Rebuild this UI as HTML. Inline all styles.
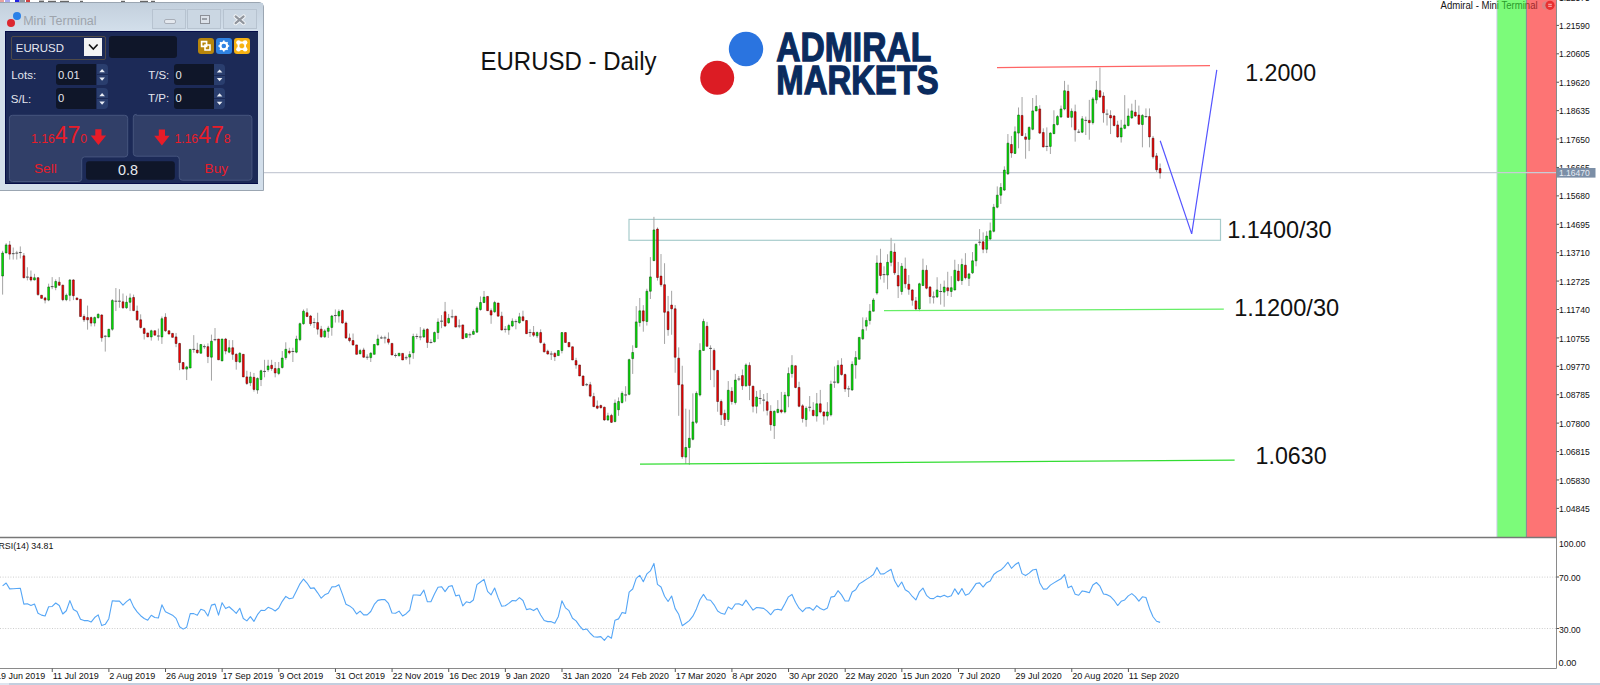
<!DOCTYPE html>
<html><head><meta charset="utf-8"><style>
html,body{margin:0;padding:0;width:1600px;height:685px;overflow:hidden;background:#fff}
body{position:relative;font-family:"Liberation Sans",sans-serif}
.ch{position:absolute;left:0;top:0}
.ax text,text.ax{font-family:"Liberation Sans",sans-serif;font-size:9.5px;fill:#111}
.dt text{font-family:"Liberation Sans",sans-serif;font-size:9.6px;fill:#111}
.big text{font-family:"Liberation Sans",sans-serif;font-size:23.6px;fill:#111}
.big text.title{font-size:25.8px}
.logo text{font-family:"Liberation Sans",sans-serif;font-weight:bold;font-size:40.4px;fill:#0a2b5e;stroke:#0a2b5e;stroke-width:1.3px}
.a{position:absolute}
.t{white-space:nowrap;line-height:1}
.btn{background:#cbd7e3;border:1px solid #b7c3d0;box-sizing:border-box}
.dk{background:#0f1629}
.sp{width:11.2px;background:#2a3e6e;border-radius:0 4px 4px 0}
.lb{font-size:11.5px;color:#e4e6ee}
.val{font-size:11.2px;color:#e4e6ee}
.pr{color:#e81c28}.pr .s{font-size:12.2px}.pr .b{font-size:23px}
</style></head><body>
<svg class="ch" width="1600" height="685" viewBox="0 0 1600 685">
<rect x="1497" y="0" width="29.5" height="537.5" fill="#7cfb7a"/>
<rect x="1526.5" y="0" width="29.5" height="537.5" fill="#fd7474"/>
<path d="M1496.9 0V537.5" stroke="#cfd0ea" stroke-width="1" fill="none"/><path d="M1526.4 0V537.5" stroke="#7c8a96" stroke-width="1" fill="none"/>
<path d="M0 172.6H1556" stroke="#c8ccd6" stroke-width="1.2" fill="none"/>
<rect x="629" y="219.4" width="591.5" height="20.9" fill="none" stroke="#a8cccc" stroke-width="1.2"/>
<path d="M2.61 250.81V294.62M6.15 243.14V253M9.69 240.95V259.57M13.23 247.52V259.57M16.77 250.81V259.57M20.31 246.43V258.48M23.85 253V278.19M27.39 267.24V280.38M30.93 270.53V281.48M34.47 273.81V280.38M38.01 277.1V295.72M41.55 295.28V298.35M45.09 296.81V303.38M48.63 283.67V301.19M52.17 277.1V289.15M55.71 279.29V290.24M59.25 277.1V285.86M62.79 284.76V301.19M66.33 293.53V301.19M69.87 279.29V301.19M73.41 279.29V300.1M76.95 297.91V299.66M80.49 299.22V316.53M84.03 314.34V322M87.57 305.58V329.67M91.11 316.53V326.39M94.65 316.53V326.39M98.19 313.24V318.72M101.73 314.34V341.72M105.27 335.15V351.58M108.81 329.23V336.9M112.35 299V330.77M115.89 288.05V311.05M119.43 289.15V307.77M122.97 293.53V308.86M126.51 295.72V308.86M130.05 293.53V311.05M133.59 294.62V311.05M137.13 305.58V320.91M140.67 314.34V328.58M144.2 327.48V339.53M147.74 332.96V336.9M151.28 329.67V340.62M154.82 330.77V335.15M158.36 328.58V340.62M161.9 316.53V343.91M165.44 313.24V331.86M168.98 330.77V334.05M172.52 333.4V337.34M176.06 332.96V347.2M179.6 342.81V370.2M183.14 362.53V369.1M186.68 365.82V380.05M190.22 349.39V368.01M193.76 335.15V352.67M197.3 342.81V353.77M200.84 344.48V353.24M204.38 344.48V348.86M207.92 343.38V363.1M211.46 334.62V380.62M215 328.05V341.19M218.54 339V359.81M222.08 339V360.91M225.62 337.91V354.34M229.16 340.1V353.24M232.7 340.1V359.81M236.24 353.24V369.67M239.78 352.15V363.1M243.32 354.34V376.9M246.86 370.77V385.01M250.4 371.86V386.1M253.94 372.96V391.58M257.48 377.34V393.77M261.02 369.67V386.1M264.56 359.81V377.34M268.1 359.81V371.86M271.64 359.81V370.77M275.18 362V377.34M278.72 362V375.15M282.26 351.05V368.58M285.79 342.29V359.81M289.33 347.77V354.34M292.87 347.77V362M296.41 335.72V353.24M299.95 322.57V341.19M303.49 309.43V324.76M307.03 308.34V317.1M310.57 314.91V325.86M314.11 318.19V328.05M317.65 312.72V334.62M321.19 325.86V337.91M324.73 329.15V337.91M328.27 325.86V337.91M331.81 314.91V335.72M335.35 309.43V322.57M338.89 309.43V322.57M342.43 309.43V323.67M345.97 321.48V339M349.51 333.53V342.29M353.05 333.53V345.58M356.59 344.92V354.34M360.13 348.86V354.34M363.67 347.77V357.62M367.21 354.34V359.81M370.75 352.15V362M374.29 344.48V354.34M377.83 334.62V345.58M381.37 335.72V339M384.91 335.72V343.38M388.45 332.43V344.48M391.99 343.38V354.99M395.53 353.24V357.62M399.07 353.24V355.87M402.61 353.38V359.96M406.15 355.58V359.96M409.69 351.19V364.34M413.23 333.67V358.86M416.77 333.67V339.15M420.31 327.1V340.24M423.85 328.19V338.05M427.38 328.19V347.91M430.92 339.15V343.53M434.46 331.48V342.43M438 318.34V339.15M441.54 315.05V328.19M445.08 301.91V327.1M448.62 313.95V323.81M452.16 309.57V318.34M455.7 316.14V327.1M459.24 319.43V328.19M462.78 324.91V338.71M466.32 333.67V337.39M469.86 332.57V338.05M473.4 329.29V334.76M476.94 306.29V332.57M480.48 296.43V310.67M484.02 290.95V303M487.56 296.43V310.67M491.1 308.48V323.81M494.64 300.81V312.86M498.18 303V316.14M501.72 311.76V330.38M505.26 326V332.57M508.8 323.81V334.76M512.34 318.34V327.1M515.88 319.43V329.29M519.42 312.86V323.81M522.96 310.67V321.62M526.5 320.53V333.67M530.04 329.29V336.96M533.58 326V336.96M537.12 331.48V338.05M540.66 329.29V343.53M544.2 342.43V352.29M547.74 349.66V354.48M551.28 351.19V359.96M554.82 352.29V361.05M558.36 350.54V355.58M561.9 332.57V353.38M565.44 332.57V342.43M568.97 342.43V346.81M572.51 346.81V359.96M576.05 357.77V368.72M579.59 364.99V375.95M583.13 375.95V385.59M586.67 382.96V386.24M590.21 381.86V397.2M593.75 392.81V407.05M597.29 400.48V409.24M600.83 404.58V408.67M604.37 406.62V420.93M607.91 412.75V420.93M611.45 413.78V422.97M614.99 399.47V422.36M618.53 397.43V415.82M622.07 391.3V403.56M625.61 386.19V401.52M629.15 358.61V395.39M632.69 345.32V373.93M636.23 306.14V347.42M639.77 297.97V326.58M643.31 305.12V331.69M646.85 288.78V325.56M650.39 257.1V298.99M653.93 216.85V261.19M657.47 227.48V280.6M661.01 254.04V286.73M664.55 263.23V343.95M668.09 295.93V335.77M671.63 290.82V334.75M675.17 305.12V372.76M678.71 347.37V415.82M682.25 365.76V458.73M685.79 408.67V463.84M689.33 409.69V464.86M692.87 393.34V440.34M696.41 391.3V423.99M699.95 343.28V396.41M703.49 318.76V350.43M707.03 321.83V346.35M710.56 345.32V380.06M714.1 348.39V387.21M717.64 369.84V411.73M721.18 399.47V425.01M724.72 409.69V426.04M728.26 381.08V421.95M731.8 387.21V404.58M735.34 373.93V404.58M738.88 375.97V381.08M742.42 369.47V389.91M745.96 363.34V386.84M749.5 362.32V400.12M753.04 385.82V412.38M756.58 390.93V413.4M760.12 389.91V404.21M763.66 393.99V411.36M767.2 392.97V415.45M770.74 405.23V430.77M774.28 410.34V438.95M777.82 400.12V413.4M781.36 391.95V413.4M784.9 391.95V413.4M788.44 367.43V407.27M791.98 355.17V377.65M795.52 365.39V388.27M799.06 381.73V407.27M802.6 404.21V422.6M806.14 406.25V426.69M809.68 396.04V411.36M813.22 402.17V416.47M816.76 392.97V421.58M820.3 389.91V413.4M823.84 411.36V424.64M827.38 402.17V420.56M830.92 380.71V416.47M834.46 366.41V387.86M838 360.28V383.78M841.54 358.23V375.6M845.08 373.56V391.95M848.62 385.82V397.06M852.15 361.3V390.93M855.69 351.08V378.67M859.23 337.39V359.26M862.77 317.37V339.84M866.31 317.37V330.65M869.85 304.09V324.52M873.39 297.96V311.24M876.93 255.36V294.75M880.47 248.79V279.43M884.01 266.3V282.72M887.55 254.26V289.28M891.09 237.85V266.3M894.63 243.32V275.06M898.17 261.92V298.04M901.71 263.02V294.75M905.25 257.55V288.19M908.79 275.06V294.75M912.33 289.28V305.7M915.87 296.94V310.07M919.41 282.72V311.17M922.95 258.64V286M926.49 265.21V289.28M930.03 286V303.51M933.57 291.47V303.51M937.11 277.24V298.04M940.65 283.81V304.6M944.19 280.53V306.79M947.73 271.77V295.85M951.27 276.15V296.94M954.81 259.74V290.38M958.35 264.11V281.62M961.89 258.64V284.9M965.43 253.17V279.43M968.97 272.87V286M972.51 252.07V273.96M976.05 243.32V266.3M979.59 229.09V245.51M983.13 232.38V253.17M986.67 231.28V253.17M990.21 222.53V240.04M993.74 203.92V232.38M997.28 186.41V208.3M1000.82 183.13V203.92M1004.36 166.32V191M1007.9 134.05V174.87M1011.44 135.94V157.78M1014.98 126.45V153.98M1018.52 107.47V148.29M1022.06 97.02V135.94M1025.6 133.1V158.73M1029.14 126.45V151.13M1032.68 97.97V130.25M1036.22 95.12V111.26M1039.76 105.19V134.05M1043.3 128.35V147.34M1046.84 127.4V151.13M1050.38 132.15V153.98M1053.92 110.31V134.05M1057.46 115.06V125.5M1061 105.57V117.91M1064.54 80.88V110.31M1068.08 84.68V117.91M1071.62 108.41V127.4M1075.16 104.62V141.64M1078.7 129.3V133.1M1082.24 116.01V133.1M1085.78 116.58V135M1089.32 99.87V139.74M1092.86 97.02V124.55M1096.4 80.88V103.67M1099.94 67.59V97.97M1103.48 92.28V122.65M1107.02 109.36V125.5M1110.56 110.31V134.05M1114.1 115.06V126.45M1117.64 120.76V137.84M1121.18 119.81V142.59M1124.72 95.12V129.3M1128.26 108.41V126.45M1131.8 103.67V118.86M1135.33 99.87V116.96M1138.87 105.57V124.55M1142.41 114.11V147.34M1145.95 108.41V117.91M1149.49 108.41V147.34M1153.03 135.94V158.73M1156.57 153.03V172.02M1160.11 163.47V178.66" stroke="#a4a4a4" stroke-width="1" fill="none"/>
<path d="M1.71 253h1.8v23h-1.8zM5.25 244.9h1.8v8.11h-1.8zM33.57 277.75h1.8v2.19h-1.8zM47.73 286.96h1.8v13.14h-1.8zM54.81 281.48h1.8v5.91h-1.8zM65.43 295.28h1.8v4.38h-1.8zM68.97 279.95h1.8v15.33h-1.8zM93.75 317.62h1.8v5.48h-1.8zM97.29 314.34h1.8v3.29h-1.8zM107.91 329.23h1.8v7.67h-1.8zM111.45 300.54h1.8v28.7h-1.8zM125.61 302.29h1.8v5.48h-1.8zM129.15 297.91h1.8v4.38h-1.8zM150.38 330.77h1.8v6.13h-1.8zM161 318.72h1.8v18.18h-1.8zM185.78 366.91h1.8v2.19h-1.8zM189.32 349.39h1.8v18.62h-1.8zM199.94 344.48h1.8v8.76h-1.8zM210.56 341.19h1.8v15.99h-1.8zM221.18 339h1.8v21.91h-1.8zM228.26 347.77h1.8v4.38h-1.8zM238.88 353.24h1.8v8.76h-1.8zM249.5 376.9h1.8v5.91h-1.8zM256.58 378.43h1.8v11.61h-1.8zM260.12 370.77h1.8v8.76h-1.8zM267.2 365.95h1.8v3.72h-1.8zM277.82 368.58h1.8v4.82h-1.8zM281.36 358.06h1.8v9.42h-1.8zM284.89 349.3h1.8v8.32h-1.8zM295.51 339h1.8v13.14h-1.8zM299.05 323.67h1.8v15.99h-1.8zM302.59 311.18h1.8v12.49h-1.8zM323.83 330.9h1.8v5.91h-1.8zM327.37 328.05h1.8v3.29h-1.8zM330.91 316h1.8v11.39h-1.8zM337.99 311.62h1.8v4.38h-1.8zM359.23 350.61h1.8v3.07h-1.8zM369.85 353.24h1.8v4.38h-1.8zM373.39 344.48h1.8v9.86h-1.8zM376.93 339h1.8v5.91h-1.8zM398.17 353.24h1.8v2.63h-1.8zM408.79 354.48h1.8v2.63h-1.8zM412.33 336.52h1.8v16.21h-1.8zM422.95 329.95h1.8v7.01h-1.8zM433.56 332.57h1.8v9.2h-1.8zM437.1 322.06h1.8v10.51h-1.8zM447.72 318.34h1.8v4.38h-1.8zM465.42 333.67h1.8v3.72h-1.8zM472.5 331.48h1.8v2.85h-1.8zM476.04 308.04h1.8v24.1h-1.8zM479.58 302.56h1.8v7.01h-1.8zM483.12 297.09h1.8v5.48h-1.8zM493.74 302.56h1.8v9.2h-1.8zM507.9 325.56h1.8v4.38h-1.8zM511.44 321.18h1.8v4.82h-1.8zM518.52 316.8h1.8v5.91h-1.8zM536.22 332.57h1.8v3.29h-1.8zM557.46 350.54h1.8v5.04h-1.8zM561 332.57h1.8v17.96h-1.8zM607.01 415.82h1.8v4.09h-1.8zM614.09 403.15h1.8v18.39h-1.8zM617.63 401.52h1.8v8.17h-1.8zM621.17 393.34h1.8v9.19h-1.8zM628.25 359.63h1.8v34.74h-1.8zM631.79 352.48h1.8v6.13h-1.8zM635.33 321.88h1.8v25.54h-1.8zM638.87 310.84h1.8v11.65h-1.8zM645.95 291.23h1.8v30.24h-1.8zM649.49 276.92h1.8v14.3h-1.8zM653.03 229.93h1.8v30.65h-1.8zM684.89 447.49h1.8v9.6h-1.8zM688.43 438.3h1.8v9.19h-1.8zM691.97 421.95h1.8v17.37h-1.8zM695.51 393.34h1.8v29.02h-1.8zM699.05 350.43h1.8v44.54h-1.8zM702.59 321.42h1.8v29.02h-1.8zM727.36 390.28h1.8v29.22h-1.8zM734.44 380.06h1.8v22.48h-1.8zM745.06 364.98h1.8v20.84h-1.8zM755.68 397.06h1.8v9.19h-1.8zM773.38 411.36h1.8v14.3h-1.8zM776.92 409.32h1.8v3.06h-1.8zM784 395.01h1.8v16.96h-1.8zM787.54 373.56h1.8v22.48h-1.8zM791.08 365.39h1.8v8.17h-1.8zM805.24 408.3h1.8v11.24h-1.8zM815.86 403.8h1.8v12.26h-1.8zM826.48 411.97h1.8v4.09h-1.8zM830.02 384.18h1.8v30.65h-1.8zM837.1 365.39h1.8v17.37h-1.8zM851.25 364.36h1.8v25.54h-1.8zM854.79 357.62h1.8v7.36h-1.8zM858.33 337.39h1.8v21.86h-1.8zM861.87 329.63h1.8v9.19h-1.8zM865.41 320.43h1.8v5.72h-1.8zM868.95 311.24h1.8v9.19h-1.8zM872.49 300h1.8v11.24h-1.8zM876.03 263.02h1.8v29.98h-1.8zM886.65 262.36h1.8v12.69h-1.8zM890.19 251.42h1.8v10.94h-1.8zM900.81 266.3h1.8v25.17h-1.8zM918.51 283.81h1.8v25.17h-1.8zM922.05 270.24h1.8v15.32h-1.8zM936.21 289.94h1.8v7h-1.8zM943.29 287.09h1.8v5.03h-1.8zM950.37 287.75h1.8v3.72h-1.8zM953.91 270.24h1.8v19.7h-1.8zM960.99 264.55h1.8v15.98h-1.8zM968.07 273.96h1.8v4.38h-1.8zM971.61 260.83h1.8v12.04h-1.8zM975.15 244.41h1.8v16.41h-1.8zM985.77 236.1h1.8v13.13h-1.8zM989.31 230.84h1.8v8.1h-1.8zM992.84 207.21h1.8v24.08h-1.8zM996.38 195.17h1.8v12.04h-1.8zM999.92 187.51h1.8v7.66h-1.8zM1003.46 170.12h1.8v19.94h-1.8zM1007 143.16h1.8v30.76h-1.8zM1014.08 131.77h1.8v21.64h-1.8zM1017.62 115.06h1.8v18.04h-1.8zM1028.24 127.4h1.8v11.96h-1.8zM1031.78 110.88h1.8v18.42h-1.8zM1035.32 106.52h1.8v4.37h-1.8zM1049.48 133.1h1.8v13.29h-1.8zM1053.02 124.55h1.8v9.11h-1.8zM1056.56 116.58h1.8v7.97h-1.8zM1060.1 108.98h1.8v7.97h-1.8zM1063.64 90.76h1.8v18.23h-1.8zM1070.72 111.26h1.8v6.08h-1.8zM1081.34 118.86h1.8v13.29h-1.8zM1091.96 98.92h1.8v23.73h-1.8zM1095.5 90h1.8v9.87h-1.8zM1120.28 127.97h1.8v8.92h-1.8zM1123.82 124.93h1.8v3.42h-1.8zM1127.36 116.01h1.8v9.49h-1.8zM1130.9 110.88h1.8v7.02h-1.8zM1141.51 115.44h1.8v9.11h-1.8z" fill="#00ee00" stroke="#0a4a0a" stroke-width="0.55"/>
<path d="M8.79 244.9h1.8v9.2h-1.8zM22.95 255.85h1.8v21.91h-1.8zM30.03 277.1h1.8v2.85h-1.8zM37.11 277.75h1.8v16.87h-1.8zM40.65 295.28h1.8v3.07h-1.8zM44.19 297.91h1.8v2.19h-1.8zM58.35 282.14h1.8v3.07h-1.8zM61.89 285.2h1.8v14.46h-1.8zM72.51 279.95h1.8v15.77h-1.8zM76.05 297.91h1.8v1.75h-1.8zM79.59 299.22h1.8v17.31h-1.8zM83.13 316.53h1.8v3.29h-1.8zM86.67 317.62h1.8v2.19h-1.8zM90.21 317.62h1.8v5.48h-1.8zM100.83 314.99h1.8v22.78h-1.8zM122.07 301.85h1.8v5.91h-1.8zM132.69 297.47h1.8v13.14h-1.8zM136.23 311.05h1.8v8.76h-1.8zM139.77 319.81h1.8v7.67h-1.8zM143.3 328.58h1.8v4.82h-1.8zM146.84 332.96h1.8v3.94h-1.8zM153.92 330.77h1.8v4.38h-1.8zM164.54 317.19h1.8v13.58h-1.8zM168.08 330.77h1.8v3.29h-1.8zM171.62 333.4h1.8v3.94h-1.8zM175.16 336.9h1.8v6.57h-1.8zM178.7 343.47h1.8v19.06h-1.8zM182.24 362.53h1.8v6.57h-1.8zM196.4 350.04h1.8v2.63h-1.8zM207.02 346.67h1.8v9.86h-1.8zM217.64 339h1.8v20.81h-1.8zM224.72 339h1.8v12.05h-1.8zM231.8 347.77h1.8v6.57h-1.8zM235.34 354.34h1.8v7.23h-1.8zM242.42 354.34h1.8v22.56h-1.8zM245.96 376.9h1.8v6.57h-1.8zM253.04 377.34h1.8v12.05h-1.8zM270.74 365.29h1.8v3.29h-1.8zM274.28 368.58h1.8v4.38h-1.8zM288.43 351.05h1.8v1.75h-1.8zM306.13 312.72h1.8v3.72h-1.8zM309.67 316h1.8v7.67h-1.8zM316.75 322.57h1.8v6.57h-1.8zM320.29 329.15h1.8v7.67h-1.8zM341.53 310.53h1.8v12.49h-1.8zM345.07 323.01h1.8v14.9h-1.8zM348.61 337.91h1.8v2.63h-1.8zM352.15 340.54h1.8v4.38h-1.8zM355.69 344.92h1.8v9.42h-1.8zM362.77 349.96h1.8v7.23h-1.8zM387.55 339h1.8v3.29h-1.8zM391.09 343.38h1.8v11.61h-1.8zM401.71 353.38h1.8v6.57h-1.8zM426.48 329.29h1.8v13.14h-1.8zM444.18 311.76h1.8v14.24h-1.8zM454.8 316.14h1.8v10.95h-1.8zM461.88 324.91h1.8v13.8h-1.8zM486.66 296.43h1.8v14.24h-1.8zM490.2 310.67h1.8v4.38h-1.8zM497.28 303h1.8v13.14h-1.8zM500.82 316.14h1.8v13.8h-1.8zM522.06 316.8h1.8v3.72h-1.8zM525.6 320.53h1.8v13.14h-1.8zM532.68 332.57h1.8v2.63h-1.8zM539.76 332.57h1.8v9.86h-1.8zM543.3 343.96h1.8v7.89h-1.8zM546.84 351.19h1.8v2.85h-1.8zM553.92 353.38h1.8v3.29h-1.8zM564.54 332.57h1.8v9.86h-1.8zM568.07 342.43h1.8v4.38h-1.8zM571.61 346.81h1.8v13.14h-1.8zM575.15 360.61h1.8v4.38h-1.8zM578.69 364.99h1.8v10.95h-1.8zM582.23 375.95h1.8v9.64h-1.8zM589.31 384.71h1.8v11.39h-1.8zM592.85 396.54h1.8v10.08h-1.8zM596.39 405.96h1.8v2.19h-1.8zM599.93 405.6h1.8v2.04h-1.8zM603.47 407.24h1.8v12.67h-1.8zM610.55 415.41h1.8v6.95h-1.8zM642.41 310.84h1.8v10.22h-1.8zM656.57 229.11h1.8v48.43h-1.8zM660.11 276.11h1.8v8.58h-1.8zM663.65 284.69h1.8v27.58h-1.8zM667.19 311.66h1.8v17.98h-1.8zM670.73 305.12h1.8v3.68h-1.8zM674.27 308.8h1.8v48.43h-1.8zM677.81 358.2h1.8v26.56h-1.8zM681.35 384.76h1.8v71.92h-1.8zM706.13 326.32h1.8v20.02h-1.8zM713.2 350.43h1.8v19.41h-1.8zM716.74 370.46h1.8v31.06h-1.8zM720.28 401.52h1.8v13.28h-1.8zM723.82 413.37h1.8v6.13h-1.8zM730.9 391.3h1.8v10.22h-1.8zM741.52 375.6h1.8v10.22h-1.8zM748.6 365.39h1.8v20.02h-1.8zM752.14 386.23h1.8v20.02h-1.8zM766.3 401.76h1.8v8.58h-1.8zM769.84 411.36h1.8v13.28h-1.8zM780.46 409.93h1.8v2.04h-1.8zM794.62 365.79h1.8v21.66h-1.8zM798.16 387.45h1.8v18.8h-1.8zM801.7 405.84h1.8v12.67h-1.8zM812.32 410.34h1.8v5.11h-1.8zM819.4 403.8h1.8v8.17h-1.8zM822.94 411.97h1.8v4.09h-1.8zM840.64 364.98h1.8v9.6h-1.8zM844.18 374.58h1.8v14.3h-1.8zM879.57 263.02h1.8v12.48h-1.8zM893.73 252.07h1.8v20.79h-1.8zM897.27 275.49h1.8v10.51h-1.8zM904.35 268.93h1.8v14.88h-1.8zM907.89 284.25h1.8v5.03h-1.8zM911.43 289.94h1.8v10.29h-1.8zM914.97 300.88h1.8v8.1h-1.8zM925.59 270.24h1.8v17.95h-1.8zM929.13 287.09h1.8v9.41h-1.8zM946.83 287.75h1.8v3.06h-1.8zM957.45 271.12h1.8v9.41h-1.8zM964.53 265.21h1.8v12.48h-1.8zM982.23 241.79h1.8v7.44h-1.8zM1010.54 144.49h1.8v8.54h-1.8zM1021.16 115.44h1.8v20.13h-1.8zM1024.7 136.89h1.8v2.47h-1.8zM1038.86 108.98h1.8v24.11h-1.8zM1042.4 132.53h1.8v14.43h-1.8zM1067.18 91.33h1.8v26.01h-1.8zM1074.26 111.64h1.8v18.23h-1.8zM1088.42 120.38h1.8v2.28h-1.8zM1099.04 90.76h1.8v6.27h-1.8zM1102.58 96.07h1.8v16.71h-1.8zM1109.66 115.44h1.8v2.47h-1.8zM1113.2 116.01h1.8v9.49h-1.8zM1116.74 124.93h1.8v11.96h-1.8zM1134.43 112.21h1.8v3.8h-1.8zM1137.97 115.06h1.8v9.11h-1.8zM1148.59 116.58h1.8v20.32h-1.8zM1152.13 138.22h1.8v18.61h-1.8zM1155.67 155.88h1.8v13.86h-1.8zM1159.21 168.6h1.8v4.37h-1.8z" fill="#ff0000" stroke="#4a0505" stroke-width="0.55"/>
<path d="M11.83 253.66H14.63M15.37 253.11H18.17M18.91 252.56H21.71M25.99 277.1H28.79M50.77 286.63H53.57M103.87 336.24H106.67M114.49 301.19H117.29M118.03 301.19H120.83M156.96 336.02H159.76M192.36 349.39H195.16M202.98 346.67H205.78M213.6 339.66H216.4M263.16 371.42H265.96M291.47 351.49H294.27M312.71 322.57H315.51M333.95 315.56H336.75M365.81 357.19H368.61M379.97 337.91H382.77M383.51 337.91H386.31M394.13 355.43H396.93M404.75 357.77H407.55M415.37 336.52H418.17M418.91 336.96H421.71M429.52 342.43H432.32M440.14 321.18H442.94M450.76 316.8H453.56M457.84 326H460.64M468.46 334.76H471.26M503.86 329.29H506.66M514.48 321.62H517.28M528.64 332.57H531.44M549.88 354.04H552.68M585.27 384.71H588.07M624.21 394.98H627.01M709.16 348.39H711.96M737.48 379.04H740.28M758.72 398.49H761.52M762.26 400.12H765.06M808.28 407.27H811.08M833.06 382.14H835.86M847.22 388.88H850.02M882.61 274.62H885.41M932.17 296.94H934.97M939.25 291.47H942.05M978.19 242.23H980.99M1045.44 146.39H1048.24M1077.3 132.15H1080.1M1084.38 120.38H1087.18M1105.62 114.11H1108.42M1144.55 116.58H1147.35" stroke="#505050" stroke-width="1" fill="none"/>
<path d="M997 67.6L1210 65.6" stroke="#ff6464" stroke-width="1.3" fill="none"/>
<path d="M884 310.6L1223.8 309.2" stroke="#66ee66" stroke-width="1.3" fill="none"/>
<path d="M640 464.2L1234.6 460.1" stroke="#33dd33" stroke-width="1.3" fill="none"/>
<path d="M1160.2 140.7L1191.7 233.9L1216.8 69.8" stroke="#5555ff" stroke-width="1.2" fill="none"/>
<path d="M1556.5 0V668.5M0 668.5H1556.5" stroke="#8a8a8a" stroke-width="1" fill="none"/><path d="M0 537.4H1556.5" stroke="#777" stroke-width="1.5" fill="none"/>
<path d="M1556.5 -3.01H1559M1556.5 25.4H1559M1556.5 53.81H1559M1556.5 82.22H1559M1556.5 110.63H1559M1556.5 139.04H1559M1556.5 167.45H1559M1556.5 195.86H1559M1556.5 224.27H1559M1556.5 252.68H1559M1556.5 281.09H1559M1556.5 309.5H1559M1556.5 337.91H1559M1556.5 366.32H1559M1556.5 394.73H1559M1556.5 423.14H1559M1556.5 451.55H1559M1556.5 479.96H1559M1556.5 508.37H1559" stroke="#555" stroke-width="1" fill="none"/>
<path d="M1556.5 577H1559M1556.5 628.5H1559" stroke="#555" stroke-width="1" fill="none"/>
<path d="M0 577.1H1556M0 628.5H1556" stroke="#cdcdcd" stroke-width="1" stroke-dasharray="1 1.6" fill="none"/>
<path d="M2.61 585.9 L6.15 582.99 L9.69 588.87 L13.23 588.69 L16.77 588.45 L20.31 588.19 L23.85 604.15 L27.39 603.78 L30.93 605.41 L34.47 604.01 L38.01 613.3 L41.55 615.12 L45.09 615.99 L48.63 606.7 L52.17 606.48 L55.71 602.99 L59.25 605.45 L62.79 614 L66.33 610.73 L69.87 600.59 L73.41 609.53 L76.95 611.54 L80.49 619.23 L84.03 620.58 L87.57 620.58 L91.11 622.05 L94.65 617.55 L98.19 614.89 L101.73 625.58 L105.27 624.34 L108.81 618.71 L112.35 600.73 L115.89 601.1 L119.43 601.1 L122.97 605.05 L126.51 601.65 L130.05 598.99 L133.59 606.9 L137.13 611.9 L140.67 615.72 L144.2 618.51 L147.74 620.14 L151.28 615.28 L154.82 617.54 L158.36 618.01 L161.9 604.83 L165.44 611.7 L168.98 613.44 L172.52 615.19 L176.06 618.39 L179.6 626.71 L183.14 629.12 L186.68 627.22 L190.22 613.62 L193.76 613.62 L197.3 615.34 L200.84 609.22 L204.38 610.52 L207.92 616.05 L211.46 605.12 L215 604.13 L218.54 615.11 L222.08 602.66 L225.62 608.58 L229.16 606.74 L232.7 609.97 L236.24 613.37 L239.78 608.21 L243.32 618.45 L246.86 620.86 L250.4 616.69 L253.94 621.41 L257.48 614.66 L261.02 610.25 L264.56 610.56 L268.1 607.28 L271.64 608.65 L275.18 610.96 L278.72 608 L282.26 601.36 L285.79 596.4 L289.33 598.72 L292.87 597.93 L296.41 590.91 L299.95 583.83 L303.49 579.03 L307.03 583.07 L310.57 588.41 L314.11 587.9 L317.65 592.82 L321.19 598.2 L324.73 594.81 L328.27 593.2 L331.81 586.9 L335.35 586.69 L338.89 584.68 L342.43 594.14 L345.97 604.29 L349.51 605.91 L353.05 608.61 L356.59 614.03 L360.13 611.16 L363.67 614.92 L367.21 614.92 L370.75 611.5 L374.29 604.43 L377.83 600.4 L381.37 599.6 L384.91 599.6 L388.45 603.43 L391.99 613.02 L395.53 613.32 L399.07 611.15 L402.61 616.04 L406.15 613.72 L409.69 610.26 L413.23 594.97 L416.77 594.97 L420.31 595.4 L423.85 590.08 L427.38 601.79 L430.92 601.79 L434.46 594.06 L438 587.22 L441.54 586.69 L445.08 591.58 L448.62 586.58 L452.16 585.62 L455.7 595.86 L459.24 595.05 L462.78 605.9 L466.32 601.82 L469.86 602.73 L473.4 599.96 L476.94 584.68 L480.48 581.97 L484.02 579.38 L487.56 591.42 L491.1 594.87 L494.64 587.96 L498.18 597.89 L501.72 606.24 L505.26 605.82 L508.8 603.39 L512.34 600.54 L515.88 600.86 L519.42 597.57 L522.96 600.49 L526.5 609.65 L530.04 608.78 L533.58 610.57 L537.12 608.27 L540.66 614.97 L544.2 620.43 L547.74 621.63 L551.28 621.63 L554.82 623.19 L558.36 616.44 L561.9 600.8 L565.44 607.82 L568.97 610.68 L572.51 618.28 L576.05 620.85 L579.59 625.92 L583.13 629.79 L586.67 628.96 L590.21 633.27 L593.75 636.69 L597.29 637.16 L600.83 636.62 L604.37 640.45 L607.91 636.03 L611.45 638.18 L614.99 620.21 L618.53 618.88 L622.07 612.42 L625.61 613.35 L629.15 592.11 L632.69 589 L636.23 578.33 L639.77 575.31 L643.31 581.77 L646.85 573.95 L650.39 570.92 L653.93 563.42 L657.47 584.36 L661.01 586.98 L664.55 596.27 L668.09 601.44 L671.63 596.02 L675.17 608.61 L678.71 614.33 L682.25 625.7 L685.79 623.18 L689.33 620.63 L692.87 616.15 L696.41 608.91 L699.95 599.7 L703.49 594.38 L707.03 599.79 L710.56 600.23 L714.1 604.82 L717.64 610.95 L721.18 613.34 L724.72 614.2 L728.26 606.88 L731.8 609.2 L735.34 604.02 L738.88 603.77 L742.42 605.42 L745.96 600.11 L749.5 605.28 L753.04 610.12 L756.58 607.55 L760.12 607.9 L763.66 608.34 L767.2 611.08 L770.74 614.77 L774.28 610.05 L777.82 609.33 L781.36 610.13 L784.9 603.85 L788.44 596.87 L791.98 594.43 L795.52 602.32 L799.06 608.19 L802.6 611.71 L806.14 607.98 L809.68 607.6 L813.22 610.27 L816.76 605.64 L820.3 608.49 L823.84 609.92 L827.38 608.09 L830.92 597.11 L834.46 596.38 L838 590.7 L841.54 594.89 L845.08 600.96 L848.62 600.96 L852.15 592.01 L855.69 589.84 L859.23 583.87 L862.77 581.8 L866.31 579.41 L869.85 577.12 L873.39 574.46 L876.93 567.43 L880.47 574.06 L884.01 573.88 L887.55 571.41 L891.09 569.34 L894.63 580.82 L898.17 587.02 L901.71 581.98 L905.25 589.68 L908.79 591.97 L912.33 596.47 L915.87 599.93 L919.41 591.83 L922.95 588.05 L926.49 595.31 L930.03 598.45 L933.57 598.62 L937.11 596.16 L940.65 596.84 L944.19 595.17 L947.73 597.01 L951.27 595.71 L954.81 588.87 L958.35 594.37 L961.89 588.49 L965.43 595.19 L968.97 593.75 L972.51 588.9 L976.05 583.58 L979.59 582.9 L983.13 587.03 L986.67 582.66 L990.21 581.02 L993.74 574.52 L997.28 571.73 L1000.82 570.06 L1004.36 566.61 L1007.9 562.27 L1011.44 568.3 L1014.98 564.81 L1018.52 562.43 L1022.06 573.62 L1025.6 575.57 L1029.14 573.12 L1032.68 570.03 L1036.22 569.25 L1039.76 582.95 L1043.3 589.08 L1046.84 588.92 L1050.38 585.15 L1053.92 582.86 L1057.46 580.77 L1061 578.83 L1064.54 574.54 L1068.08 587.79 L1071.62 586.12 L1075.16 594.28 L1078.7 595.24 L1082.24 590.92 L1085.78 591.63 L1089.32 592.74 L1092.86 585.03 L1096.4 582.5 L1099.94 586.23 L1103.48 594.02 L1107.02 594.65 L1110.56 596.53 L1114.1 600.27 L1117.64 605.53 L1121.18 601.35 L1124.72 599.95 L1128.26 595.89 L1131.8 593.64 L1135.33 596.62 L1138.87 601.2 L1142.41 596.83 L1145.95 597.51 L1149.49 608.42 L1153.03 616.75 L1156.57 621.28 L1160.11 622.36" stroke="#55a6f6" stroke-width="1.1" fill="none" stroke-linejoin="round"/>
<path d="M-4.39 668.5V672M52.25 668.5V672M108.89 668.5V672M165.53 668.5V672M222.17 668.5V672M278.81 668.5V672M335.45 668.5V672M392.09 668.5V672M448.73 668.5V672M505.37 668.5V672M562.01 668.5V672M618.65 668.5V672M675.29 668.5V672M731.93 668.5V672M788.57 668.5V672M845.21 668.5V672M901.85 668.5V672M958.49 668.5V672M1015.13 668.5V672M1071.77 668.5V672M1128.41 668.5V672" stroke="#555" stroke-width="1" fill="none"/>
<g class="ax">
<text x="1558.9" y="0.59" textLength="31" lengthAdjust="spacingAndGlyphs">1.22575</text>
<text x="1558.9" y="29" textLength="31" lengthAdjust="spacingAndGlyphs">1.21590</text>
<text x="1558.9" y="57.41" textLength="31" lengthAdjust="spacingAndGlyphs">1.20605</text>
<text x="1558.9" y="85.82" textLength="31" lengthAdjust="spacingAndGlyphs">1.19620</text>
<text x="1558.9" y="114.23" textLength="31" lengthAdjust="spacingAndGlyphs">1.18635</text>
<text x="1558.9" y="142.64" textLength="31" lengthAdjust="spacingAndGlyphs">1.17650</text>
<text x="1558.9" y="171.05" textLength="31" lengthAdjust="spacingAndGlyphs">1.16665</text>
<text x="1558.9" y="199.46" textLength="31" lengthAdjust="spacingAndGlyphs">1.15680</text>
<text x="1558.9" y="227.87" textLength="31" lengthAdjust="spacingAndGlyphs">1.14695</text>
<text x="1558.9" y="256.28" textLength="31" lengthAdjust="spacingAndGlyphs">1.13710</text>
<text x="1558.9" y="284.69" textLength="31" lengthAdjust="spacingAndGlyphs">1.12725</text>
<text x="1558.9" y="313.1" textLength="31" lengthAdjust="spacingAndGlyphs">1.11740</text>
<text x="1558.9" y="341.51" textLength="31" lengthAdjust="spacingAndGlyphs">1.10755</text>
<text x="1558.9" y="369.92" textLength="31" lengthAdjust="spacingAndGlyphs">1.09770</text>
<text x="1558.9" y="398.33" textLength="31" lengthAdjust="spacingAndGlyphs">1.08785</text>
<text x="1558.9" y="426.74" textLength="31" lengthAdjust="spacingAndGlyphs">1.07800</text>
<text x="1558.9" y="455.15" textLength="31" lengthAdjust="spacingAndGlyphs">1.06815</text>
<text x="1558.9" y="483.56" textLength="31" lengthAdjust="spacingAndGlyphs">1.05830</text>
<text x="1558.9" y="511.97" textLength="31" lengthAdjust="spacingAndGlyphs">1.04845</text>
<text x="1559" y="547.4" textLength="26.5" lengthAdjust="spacingAndGlyphs">100.00</text><text x="1559" y="581" textLength="21.7" lengthAdjust="spacingAndGlyphs">70.00</text><text x="1559" y="632.6" textLength="21.7" lengthAdjust="spacingAndGlyphs">30.00</text><text x="1558.6" y="666.2" textLength="17.8" lengthAdjust="spacingAndGlyphs">0.00</text>
<text x="-1.6" y="548.8" textLength="55" lengthAdjust="spacingAndGlyphs">RSI(14) 34.81</text>
</g>
<rect x="1557" y="168" width="38.5" height="9.6" fill="#7b8ea6"/>
<text x="1558.9" y="176.3" textLength="31" lengthAdjust="spacingAndGlyphs" style="font-family:Liberation Sans,sans-serif;font-size:9.5px;fill:#e6ecf4">1.16470</text>
<g class="dt"><text x="-3.99" y="678.8" textLength="49.27" lengthAdjust="spacingAndGlyphs">19 Jun 2019</text><text x="52.65" y="678.8" textLength="46.26" lengthAdjust="spacingAndGlyphs">11 Jul 2019</text><text x="109.29" y="678.8" textLength="46.02" lengthAdjust="spacingAndGlyphs">2 Aug 2019</text><text x="165.93" y="678.8" textLength="51" lengthAdjust="spacingAndGlyphs">26 Aug 2019</text><text x="222.57" y="678.8" textLength="50.32" lengthAdjust="spacingAndGlyphs">17 Sep 2019</text><text x="279.21" y="678.8" textLength="44.17" lengthAdjust="spacingAndGlyphs">9 Oct 2019</text><text x="335.85" y="678.8" textLength="49.16" lengthAdjust="spacingAndGlyphs">31 Oct 2019</text><text x="392.49" y="678.8" textLength="51.1" lengthAdjust="spacingAndGlyphs">22 Nov 2019</text><text x="449.13" y="678.8" textLength="50.46" lengthAdjust="spacingAndGlyphs">16 Dec 2019</text><text x="505.77" y="678.8" textLength="43.98" lengthAdjust="spacingAndGlyphs">9 Jan 2020</text><text x="562.41" y="678.8" textLength="48.96" lengthAdjust="spacingAndGlyphs">31 Jan 2020</text><text x="619.05" y="678.8" textLength="49.91" lengthAdjust="spacingAndGlyphs">24 Feb 2020</text><text x="675.69" y="678.8" textLength="50.18" lengthAdjust="spacingAndGlyphs">17 Mar 2020</text><text x="732.33" y="678.8" textLength="44.21" lengthAdjust="spacingAndGlyphs">8 Apr 2020</text><text x="788.97" y="678.8" textLength="49.19" lengthAdjust="spacingAndGlyphs">30 Apr 2020</text><text x="845.61" y="678.8" textLength="51.44" lengthAdjust="spacingAndGlyphs">22 May 2020</text><text x="902.25" y="678.8" textLength="49.27" lengthAdjust="spacingAndGlyphs">15 Jun 2020</text><text x="958.89" y="678.8" textLength="41.27" lengthAdjust="spacingAndGlyphs">7 Jul 2020</text><text x="1015.53" y="678.8" textLength="46.26" lengthAdjust="spacingAndGlyphs">29 Jul 2020</text><text x="1072.17" y="678.8" textLength="51" lengthAdjust="spacingAndGlyphs">20 Aug 2020</text><text x="1128.81" y="678.8" textLength="50.32" lengthAdjust="spacingAndGlyphs">11 Sep 2020</text></g>
<g class="big">
<text x="1245.2" y="80.5" textLength="71" lengthAdjust="spacingAndGlyphs">1.2000</text>
<text x="1227.2" y="238" textLength="104.5" lengthAdjust="spacingAndGlyphs">1.1400/30</text>
<text x="1234.2" y="315.6" textLength="105" lengthAdjust="spacingAndGlyphs">1.1200/30</text>
<text x="1255.6" y="464" textLength="71" lengthAdjust="spacingAndGlyphs">1.0630</text>
<text x="480.5" y="70" class="title" textLength="176" lengthAdjust="spacingAndGlyphs">EURUSD - Daily</text>
</g>
<circle cx="746" cy="49" r="17.2" fill="#2a74e0"/><circle cx="717.2" cy="77.8" r="17" fill="#dc1c24"/>
<g class="logo"><text x="776.3" y="60.9" textLength="155" lengthAdjust="spacingAndGlyphs">ADMIRAL</text><text x="776.3" y="93.9" textLength="162.5" lengthAdjust="spacingAndGlyphs">MARKETS</text></g>
<defs><clipPath id="cg"><rect x="1497" y="0" width="29.5" height="20"/></clipPath><clipPath id="cr"><rect x="1526.5" y="0" width="29.5" height="20"/></clipPath><clipPath id="cw"><rect x="1400" y="0" width="97" height="20"/></clipPath></defs>
<text x="1440.6" y="8.6" style="font-size:10px;font-family:Liberation Sans,sans-serif" textLength="97" lengthAdjust="spacingAndGlyphs" fill="#151515" clip-path="url(#cw)">Admiral - Mini Terminal</text><text x="1440.6" y="8.6" style="font-size:10px;font-family:Liberation Sans,sans-serif" textLength="97" lengthAdjust="spacingAndGlyphs" fill="#2a9a2a" clip-path="url(#cg)">Admiral - Mini Terminal</text><text x="1440.6" y="8.6" style="font-size:10px;font-family:Liberation Sans,sans-serif" textLength="97" lengthAdjust="spacingAndGlyphs" fill="#9a2a2a" clip-path="url(#cr)">Admiral - Mini Terminal</text>
<circle cx="1546" cy="5.5" r="4" fill="#c09090" opacity="0.6"/><circle cx="1550" cy="5.3" r="4.6" fill="#e83030"/><path d="M1548.2 4.3h3.6M1548.2 6.3h3.6" stroke="#fcc" stroke-width="0.9"/>
<rect x="0" y="683" width="1600" height="2" fill="#c3cfdf"/><rect x="0" y="683" width="9" height="2" fill="#dde5ef"/>
</svg>

<svg class="a" style="left:0;top:0" width="300" height="4"><rect x="0" y="0" width="4" height="2.5" fill="#e8a0a0"/><rect x="5" y="0" width="5" height="2.5" fill="#a8a8f0"/><rect x="15" y="0" width="4.5" height="2.5" fill="#2020e0"/><rect x="20" y="0" width="5" height="2.5" fill="#9098a0"/><rect x="26" y="0" width="4" height="2.5" fill="#d04040"/>
<g fill="#333" opacity="0.75"><rect x="39" y="0.6" width="5" height="1.8"/><rect x="48" y="0.8" width="8" height="1.6"/><rect x="60" y="0.8" width="9" height="1.6"/><rect x="80" y="0.8" width="3" height="1.6"/><rect x="121" y="0.8" width="4" height="1.6"/><rect x="140" y="0.8" width="8" height="1.6"/><rect x="151" y="0.8" width="4" height="1.6"/></g></svg>
<div class="a" style="left:-2px;top:2px;width:266px;height:189px;background:#d3dfeb;border:1px solid #9ba6b2;border-radius:0 5px 0 0;box-sizing:border-box"></div>
<div class="a" style="left:0;top:3px;width:263px;height:27px;background:linear-gradient(#c3d0dd,#d2deea)"></div>
<div class="a" style="left:7px;top:18.5px;width:8px;height:8px;border-radius:50%;background:#dc2830"></div>
<div class="a" style="left:13px;top:12px;width:8px;height:8px;border-radius:50%;background:#2a80e8"></div>
<div class="a t" style="left:23.2px;top:15px;font-size:12.5px;color:#9ea4ac">Mini Terminal</div>
<div class="a btn" style="left:151.5px;top:9.2px;width:34px;height:20px"></div>
<div class="a btn" style="left:187px;top:9.2px;width:34px;height:20px"></div>
<div class="a btn" style="left:222.5px;top:9.2px;width:34px;height:20px"></div>
<div class="a" style="left:163.5px;top:18.6px;width:10px;height:3.5px;border-radius:2px;background:#e4e8ee;border:1px solid #a8aeb8"></div>
<div class="a" style="left:199.5px;top:15.3px;width:8px;height:7px;border:1.2px solid #8c9098;background:#dce2ea"></div>
<div class="a" style="left:201.5px;top:17.8px;width:5px;height:2px;background:#9aa0a8"></div>
<svg class="a" style="left:232px;top:13px" width="16" height="13"><path d="M3.6 3.4L11.6 10.2M11.6 3.4L3.6 10.2" stroke="#f4f6f8" stroke-width="4" stroke-linecap="round"/><path d="M3.6 3.4L11.6 10.2M11.6 3.4L3.6 10.2" stroke="#90959d" stroke-width="2.2" stroke-linecap="round"/></svg>
<div class="a" style="left:5px;top:30.8px;width:252.7px;height:152.8px;background:#1c2a57;border-top:1.3px solid #050d48;border-left:1.3px solid #050d48;border-bottom:1.4px solid #050d48;box-sizing:border-box"></div>
<div class="a" style="left:11.2px;top:35.5px;width:94.5px;height:24px;border:1px solid #4f4a48;box-sizing:border-box;border-radius:2px"></div>
<div class="a t" style="left:15.8px;top:42.6px;font-size:11.4px;color:#e6e8f0">EURUSD</div>
<div class="a" style="left:83.7px;top:38.2px;width:18.7px;height:17.8px;background:#f4f4f4"></div>
<svg class="a" style="left:83.7px;top:38.2px" width="19" height="18"><path d="M5 6.5L9.3 11L13.6 6.5" stroke="#111" stroke-width="1.6" fill="none"/></svg>
<div class="a dk" style="left:109px;top:36.3px;width:68px;height:21.9px;border-radius:3px"></div>
<div class="a" style="left:198.1px;top:37.9px;width:15.8px;height:16px;border-radius:3px;background:#b8860c"></div>
<svg class="a" style="left:198.1px;top:37.9px" width="16" height="16"><path d="M3.6 3.6h5v4.8h-5zM7 7h5v5h-5z" stroke="#fff" stroke-width="1.6" fill="none"/></svg>
<div class="a" style="left:216.3px;top:37.9px;width:15.5px;height:16px;border-radius:3px;background:#2f82e2"></div>
<svg class="a" style="left:216.3px;top:37.9px" width="16" height="16"><circle cx="7.8" cy="8" r="3.4" stroke="#fff" stroke-width="2.2" fill="none"/><path d="M7.8 2.6v2M7.8 11.4v2M2.4 8h2M11.2 8h2M4 4.2l1.4 1.4M10.2 10.4l1.4 1.4M4 11.8l1.4-1.4M10.2 5.6l1.4-1.4" stroke="#fff" stroke-width="1.6"/></svg>
<div class="a" style="left:234.2px;top:37.9px;width:15.6px;height:16px;border-radius:3px;background:#f7b212"></div>
<svg class="a" style="left:234.2px;top:37.9px" width="16" height="16"><circle cx="4.5" cy="4.5" r="2.3" fill="#fff"/><circle cx="11.1" cy="4.5" r="2.3" fill="#fff"/><circle cx="4.5" cy="11.2" r="2.3" fill="#fff"/><circle cx="11.1" cy="11.2" r="2.3" fill="#fff"/><path d="M4.5 4.5h6.6v6.7h-6.6z" stroke="#fff" stroke-width="1.8" fill="none"/></svg>
<div class="a t lb" style="left:11.2px;top:69.6px">Lots:</div>
<div class="a t lb" style="left:10.8px;top:93.6px">S/L:</div>
<div class="a t lb" style="left:148.2px;top:69.8px">T/S:</div>
<div class="a t lb" style="left:148px;top:93.2px">T/P:</div>
<div class="a dk" style="left:56.2px;top:63.7px;width:40.3px;height:21.4px;border-radius:3px 0 0 3px"></div>
<div class="a dk" style="left:56.2px;top:87.8px;width:40.3px;height:21px;border-radius:3px 0 0 3px"></div>
<div class="a dk" style="left:173.6px;top:64.2px;width:40.4px;height:21.1px;border-radius:3px 0 0 3px"></div>
<div class="a dk" style="left:173.6px;top:88px;width:40.4px;height:21.2px;border-radius:3px 0 0 3px"></div>
<div class="a sp" style="left:96.5px;top:63.7px;height:21.4px"></div>
<div class="a sp" style="left:96.5px;top:87.8px;height:21px"></div>
<div class="a sp" style="left:214px;top:64.2px;height:21.1px"></div>
<div class="a sp" style="left:214px;top:88px;height:21.2px"></div>
<div class="a" style="left:96.5px;top:74.2px;width:11.2px;height:0.8px;background:#1c2a57"></div><div class="a" style="left:96.5px;top:98.1px;width:11.2px;height:0.8px;background:#1c2a57"></div><div class="a" style="left:214px;top:74.6px;width:11.2px;height:0.8px;background:#1c2a57"></div><div class="a" style="left:214px;top:98.4px;width:11.2px;height:0.8px;background:#1c2a57"></div>
<div class="a t val" style="left:58px;top:69.6px">0.01</div>
<div class="a t val" style="left:58px;top:93.4px">0</div>
<div class="a t val" style="left:175.6px;top:70px">0</div>
<div class="a t val" style="left:175.6px;top:93.4px">0</div>
<svg class="a" style="left:0;top:0" width="264" height="190">
<g fill="#e8ecf4"><path d="M99.3 72.2h5.6l-2.8-3.2z"/><path d="M99.3 77.6h5.6l-2.8 3.2z"/><path d="M99.3 96.2h5.6l-2.8-3.2z"/><path d="M99.3 101.6h5.6l-2.8 3.2z"/>
<path d="M216.8 72.6h5.6l-2.8-3.2z"/><path d="M216.8 78h5.6l-2.8 3.2z"/><path d="M216.8 96.4h5.6l-2.8-3.2z"/><path d="M216.8 101.8h5.6l-2.8 3.2z"/></g>
<path d="M12.4 115.3h112.3a3 3 0 0 1 3 3v35.6a3 3 0 0 1-3 3h-40a3 3 0 0 0-3 3v18.6a3 3 0 0 1-3 3h-66.3a3 3 0 0 1-3-3v-60.2a3 3 0 0 1 3-3z" fill="#313f68" stroke="#46557e" stroke-width="1"/>
<path d="M136.3 115.3h112.6a3 3 0 0 1 3 3v58.9a3 3 0 0 1-3 3h-66.6a3 3 0 0 1-3-3v-18a3 3 0 0 0-3-3h-40a3 3 0 0 1-3-3v-35.9a3 3 0 0 1 3-3z" fill="#313f68" stroke="#46557e" stroke-width="1"/>
<rect x="86" y="161.3" width="88.8" height="18.4" rx="3" fill="#0f1629"/>
<path d="M95.3 129.2h6.2v6.2h4.6l-7.7 9.6l-7.7-9.6h4.6z" fill="#e81c28"/>
<path d="M158.8 129.6h6.2v6.2h4.6l-7.7 9.6l-7.7-9.6h4.6z" fill="#e81c28"/>
</svg>
<div class="a t pr" style="left:31px;top:124.2px"><span class="s">1.16</span><span class="b">47</span><span class="s">0</span></div>
<div class="a t pr" style="left:174.4px;top:124.2px"><span class="s">1.16</span><span class="b">47</span><span class="s">8</span></div>
<div class="a t" style="left:34px;top:162px;font-size:13.6px;color:#e81c28">Sell</div>
<div class="a t" style="left:204.6px;top:161.5px;font-size:13.6px;color:#e81c28">Buy</div>
<div class="a t" style="left:118px;top:163.4px;font-size:14.4px;color:#e8eaf0">0.8</div>

</body></html>
